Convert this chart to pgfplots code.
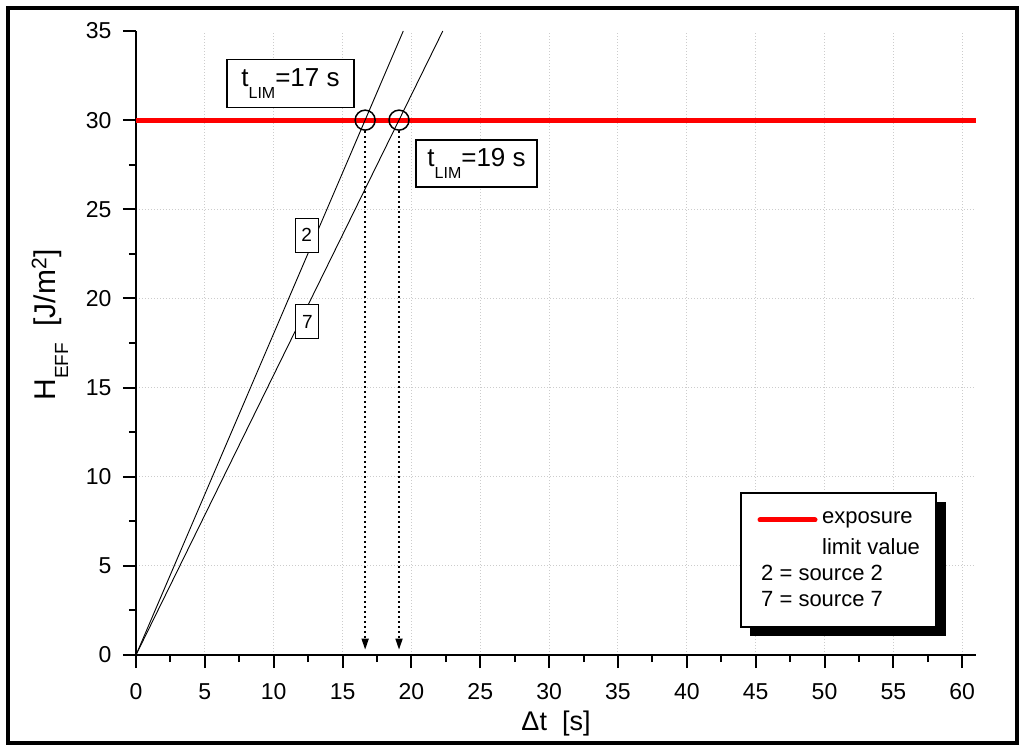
\documentclass[border=0pt]{standalone}
\usepackage{fontspec}
\setmainfont{Liberation Sans}
\usepackage{pgfplots}
\pgfplotsset{compat=1.18}
\usetikzlibrary{arrows.meta}
\begin{document}
\begin{tikzpicture}
\useasboundingbox (-136pt,-96pt) rectangle (888pt,655pt);
\begin{axis}[
  scale only axis, width=840pt, height=624pt,
  at={(0pt,0pt)}, anchor=south west,
  xmin=0, xmax=61, ymin=0, ymax=35,
  axis x line*=bottom, axis y line*=left,
  axis line style={line width=2.5pt},
  xtick={0,5,...,60}, ytick={0,5,...,30},
  extra y ticks={35}, extra tick style={grid=none},
  minor x tick num=1, minor y tick num=1,
  tick align=outside,
  major tick length=13pt, minor tick length=7pt,
  every tick/.style={line width=2pt, black},
  grid=major,
  major grid style={draw=gray!40, line width=1pt, dash pattern=on 1pt off 2pt},
  /pgf/number format/assume math mode=true,
  ticklabel style={font=\fontsize{23}{27}\selectfont},
  xticklabel style={yshift=-12pt},
  yticklabel style={xshift=-8pt},
  xlabel={Δt\ \ [s]},
  xlabel style={font=\fontsize{27}{31}\selectfont, at={(axis description cs:0.5,-0.11)}, anchor=center},
  ylabel={H\raisebox{-0.42em}{\fontsize{19}{19}\selectfont EFF}\ \ [J/m\textsuperscript{2}]},
  ylabel style={font=\fontsize{30}{34}\selectfont, at={(axis description cs:-0.1024,0.529)}, anchor=center},
  clip=true,
]
% exposure limit value
\addplot[red, line width=5pt] coordinates {(0,30) (61,30)};
% source 2 and source 7
\addplot[black, line width=0.9pt] coordinates {(0,0) (19.41,35)};
\addplot[black, line width=0.9pt] coordinates {(0,0) (22.28,35)};
% intersections
\addplot[only marks, mark=o, mark size=10pt, mark options={line width=1.5pt, black}] coordinates {(16.64,30) (19.1,30)};
% dotted arrows
\addplot[black, line width=1.6pt, dash pattern=on 2pt off 3pt, -{Triangle[length=11pt,width=7pt,sep=0pt]}] coordinates {(16.64,29.4) (16.64,0.3)};
\addplot[black, line width=1.6pt, dash pattern=on 2pt off 3pt, -{Triangle[length=11pt,width=7pt,sep=0pt]}] coordinates {(19.1,29.4) (19.1,0.3)};
% labels
\node[draw, fill=white, line width=1.1pt, minimum width=23pt, minimum height=34pt, inner sep=0pt, font=\fontsize{19}{21}\selectfont] at (axis cs:12.4,23.55) {2};
\node[draw, fill=white, line width=1.1pt, minimum width=23pt, minimum height=34pt, inner sep=0pt, font=\fontsize{19}{21}\selectfont] at (axis cs:12.45,18.7) {7};
\node[draw, fill=white, line width=1.2pt, minimum width=127pt, minimum height=48pt, inner sep=0pt, font=\fontsize{26}{30}\selectfont] at (axis cs:11.22,32.05) {t\raisebox{-0.45em}{\fontsize{16}{16}\selectfont LIM}=17 s};
\node[draw, fill=white, line width=1.2pt, minimum width=121pt, minimum height=47pt, inner sep=0pt, font=\fontsize{26}{30}\selectfont] at (axis cs:24.73,27.57) {t\raisebox{-0.45em}{\fontsize{16}{16}\selectfont LIM}=19 s};
\end{axis}
% legend with shadow
\fill[black] (614pt,19pt) rectangle (810pt,153pt);
\draw[fill=white, line width=1.2pt] (605pt,28pt) rectangle (800pt,162pt);
\draw[red, line width=5pt, line cap=round] (624pt,135pt) -- (679pt,135pt);
\begin{scope}[every node/.style={font=\fontsize{22}{26}\selectfont, anchor=west, inner sep=0pt}]
\node at (686pt,135pt) {exposure};
\node at (686pt,108pt) {limit value};
\node at (625pt,82pt) {2 = source 2};
\node at (625pt,56pt) {7 = source 7};
\end{scope}
% outer frame
\draw[line width=3.5pt] (-128pt,-88pt) rectangle (881pt,647pt);
\end{tikzpicture}
\end{document}
